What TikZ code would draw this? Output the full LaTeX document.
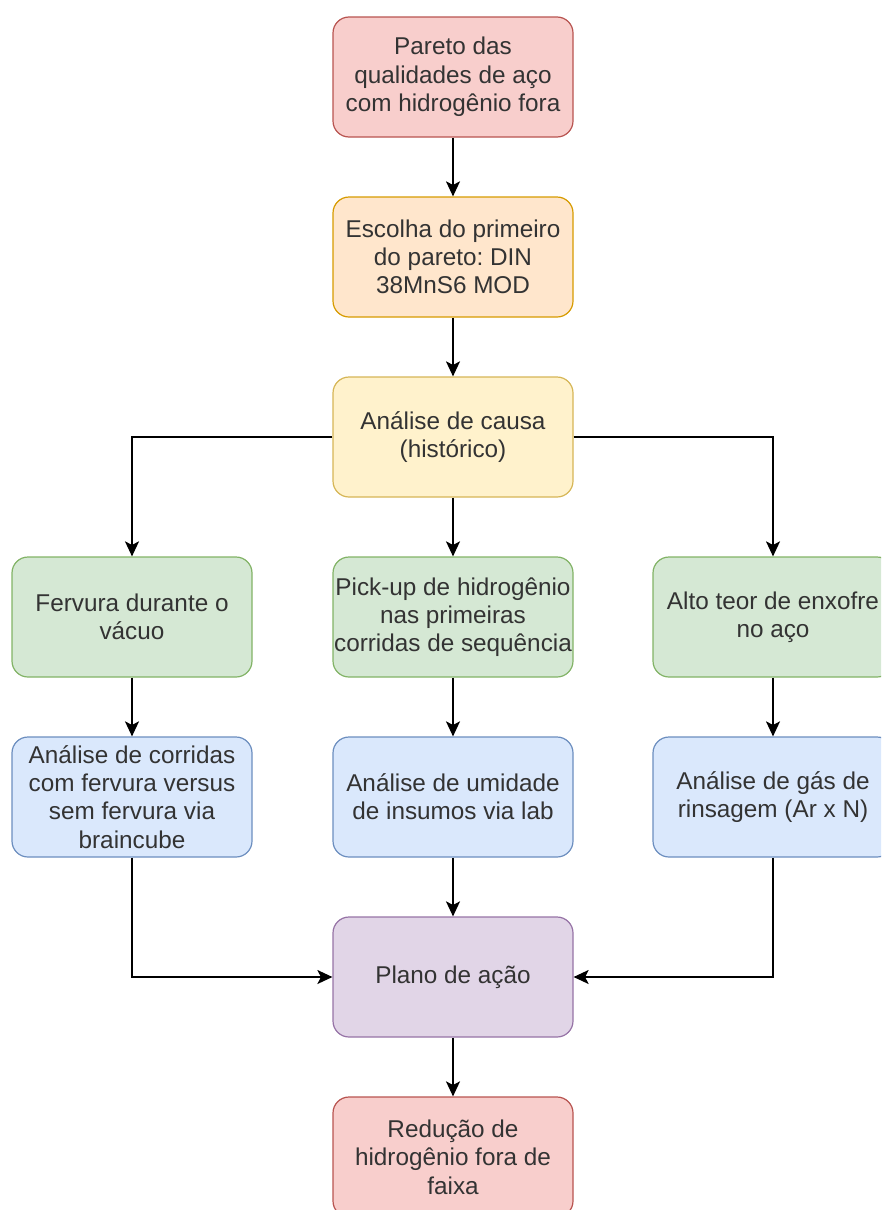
\documentclass[tikz,border=0pt]{standalone}
\usepackage{fontspec}
\setmainfont{Liberation Sans}
\usetikzlibrary{arrows.meta}
\frenchspacing

\definecolor{redfill}{HTML}{F8CECC}
\definecolor{redline}{HTML}{B85450}
\definecolor{orangefill}{HTML}{FFE6CC}
\definecolor{orangeline}{HTML}{D79B00}
\definecolor{yellowfill}{HTML}{FFF2CC}
\definecolor{yellowline}{HTML}{D6B656}
\definecolor{greenfill}{HTML}{D5E8D4}
\definecolor{greenline}{HTML}{82B366}
\definecolor{bluefill}{HTML}{DAE8FC}
\definecolor{blueline}{HTML}{6C8EBF}
\definecolor{purplefill}{HTML}{E1D5E7}
\definecolor{purpleline}{HTML}{9673A6}

\tikzset{
  box/.style={draw, line width=1.2pt, rounded corners=16pt,
    minimum width=240pt, minimum height=120pt, inner sep=1pt,
    align=center, text=black!80, font=\fontsize{24.3}{28.3}\selectfont},
  redbox/.style={box, fill=redfill, draw=redline},
  orangebox/.style={box, fill=orangefill, draw=orangeline},
  yellowbox/.style={box, fill=yellowfill, draw=yellowline},
  greenbox/.style={box, fill=greenfill, draw=greenline},
  bluebox/.style={box, fill=bluefill, draw=blueline},
  purplebox/.style={box, fill=purplefill, draw=purpleline},
  flow/.style={-{Stealth[length=15pt,width=14pt,inset=3.5pt]}, line width=1.4pt}
}

\begin{document}
\begin{tikzpicture}[x=1pt,y=-1pt]
\clip (0,0) rectangle (881,1210);

\node[redbox] (pareto) at (453,77) {Pareto das\\qualidades de aço\\com hidrogênio fora};
\node[orangebox] (escolha) at (453,257) {Escolha do primeiro\\do pareto: DIN\\38MnS6 MOD};
\node[yellowbox] (causa) at (453,437) {Análise de causa\\(histórico)};

\node[greenbox] (fervura) at (132,617) {Fervura durante o\\vácuo};
\node[greenbox] (pickup) at (453,617) {Pick-up de hidrogênio\\nas primeiras\\corridas de sequência};
\node[greenbox] (enxofre) at (773,617) {Alto teor de enxofre\\no aço};

\node[bluebox] (corridas) at (132,797) {Análise de corridas\\com fervura versus\\sem fervura via\\braincube};
\node[bluebox] (umidade) at (453,797) {Análise de umidade\\de insumos via lab};
\node[bluebox] (rinsagem) at (773,797) {Análise de gás de\\rinsagem (Ar x N)};

\node[purplebox] (plano) at (453,977) {Plano de ação};
\node[redbox] (reducao) at (453,1157) {Redução de\\hidrogênio fora de\\faixa};

\draw[flow] (pareto) -- (escolha);
\draw[flow] (escolha) -- (causa);
\draw[flow] (causa.west) -| (fervura.north);
\draw[flow] (causa) -- (pickup);
\draw[flow] (causa.east) -| (enxofre.north);
\draw[flow] (fervura) -- (corridas);
\draw[flow] (pickup) -- (umidade);
\draw[flow] (enxofre) -- (rinsagem);
\draw[flow] (corridas.south) |- (plano.west);
\draw[flow] (umidade) -- (plano);
\draw[flow] (rinsagem.south) |- (plano.east);
\draw[flow] (plano) -- (reducao);
\end{tikzpicture}
\end{document}
